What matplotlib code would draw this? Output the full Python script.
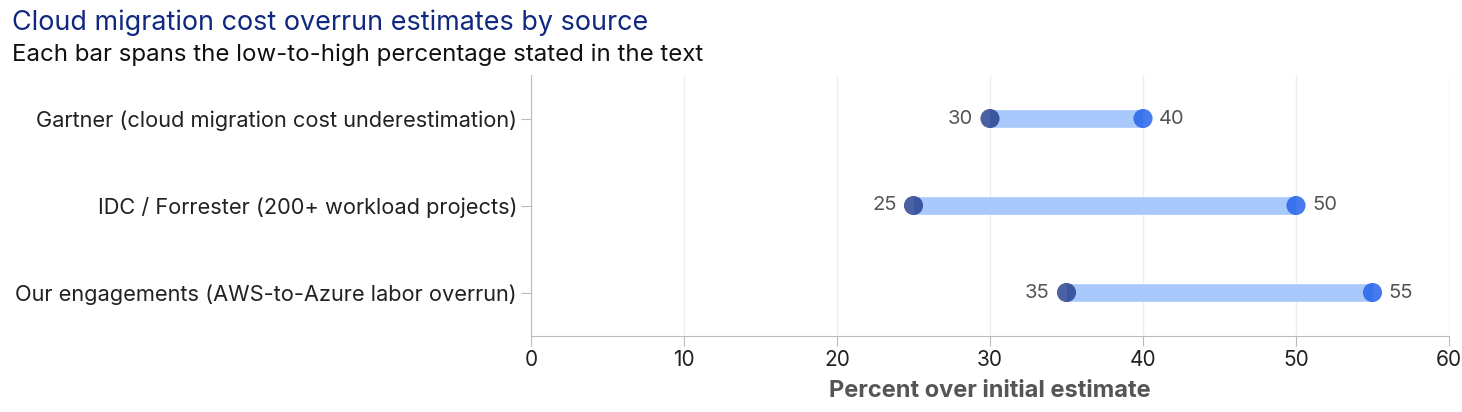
import matplotlib.pyplot as plt
from matplotlib.transforms import offset_copy

plt.rcParams['font.family'] = ['Inter', 'DejaVu Sans']

sources = ['Gartner (cloud migration cost underestimation)',
           'IDC / Forrester (200+ workload projects)',
           'Our engagements (AWS-to-Azure labor overrun)']
low = [30, 25, 35]
high = [40, 50, 55]

fig = plt.figure(figsize=(14.62, 4.12), dpi=100)
ax = fig.add_axes([531 / 1462, 76 / 412, 918 / 1462, 261 / 412])

ypos = list(range(len(sources)))
ax.hlines(ypos, low, high, color='#a9c8fb', linewidth=12.7, zorder=2)
ax.scatter(low, ypos, s=190, color='#1e3a8a', alpha=0.8, edgecolors='none', zorder=3)
ax.scatter(high, ypos, s=190, color='#2563eb', alpha=0.85, edgecolors='none', zorder=3)

left_off = offset_copy(ax.transData, fig=fig, x=-12, y=0, units='points')
right_off = offset_copy(ax.transData, fig=fig, x=11.5, y=0, units='points')
for y, lo, hi in zip(ypos, low, high):
    ax.text(lo, y, str(lo), transform=left_off, ha='right', va='center',
            fontsize=14.5, color='#555555')
    ax.text(hi, y, str(hi), transform=right_off, ha='left', va='center',
            fontsize=14.5, color='#555555')

ax.set_xlim(0, 60)
ax.set_ylim(2.5, -0.5)
ax.set_xticks([0, 10, 20, 30, 40, 50, 60])
ax.set_yticks(ypos)
ax.set_yticklabels(sources)
ax.tick_params(axis='x', labelsize=15, colors='#bbbbbb', labelcolor='#222222', length=7, pad=3)
ax.tick_params(axis='y', labelsize=15.7, colors='#bbbbbb', labelcolor='#222222', length=7, pad=3)
ax.grid(axis='x', color='#eeeeee', linewidth=1, zorder=0)
ax.set_axisbelow(True)
for side in ['top', 'right']:
    ax.spines[side].set_visible(False)
for side in ['left', 'bottom']:
    ax.spines[side].set_color('#bbbbbb')
ax.set_xlabel('Percent over initial estimate', fontsize=17, fontweight='bold',
              color='#555555', labelpad=7)

fig.text(12 / 1462, 1 - 23 / 412, 'Cloud migration cost overrun estimates by source',
         fontsize=19.4, color='#10287f', va='center', ha='left')
fig.text(12 / 1462, 1 - 55 / 412, 'Each bar spans the low-to-high percentage stated in the text',
         fontsize=17.3, color='#111111', va='center', ha='left')

fig.savefig('out.png', dpi=100)
